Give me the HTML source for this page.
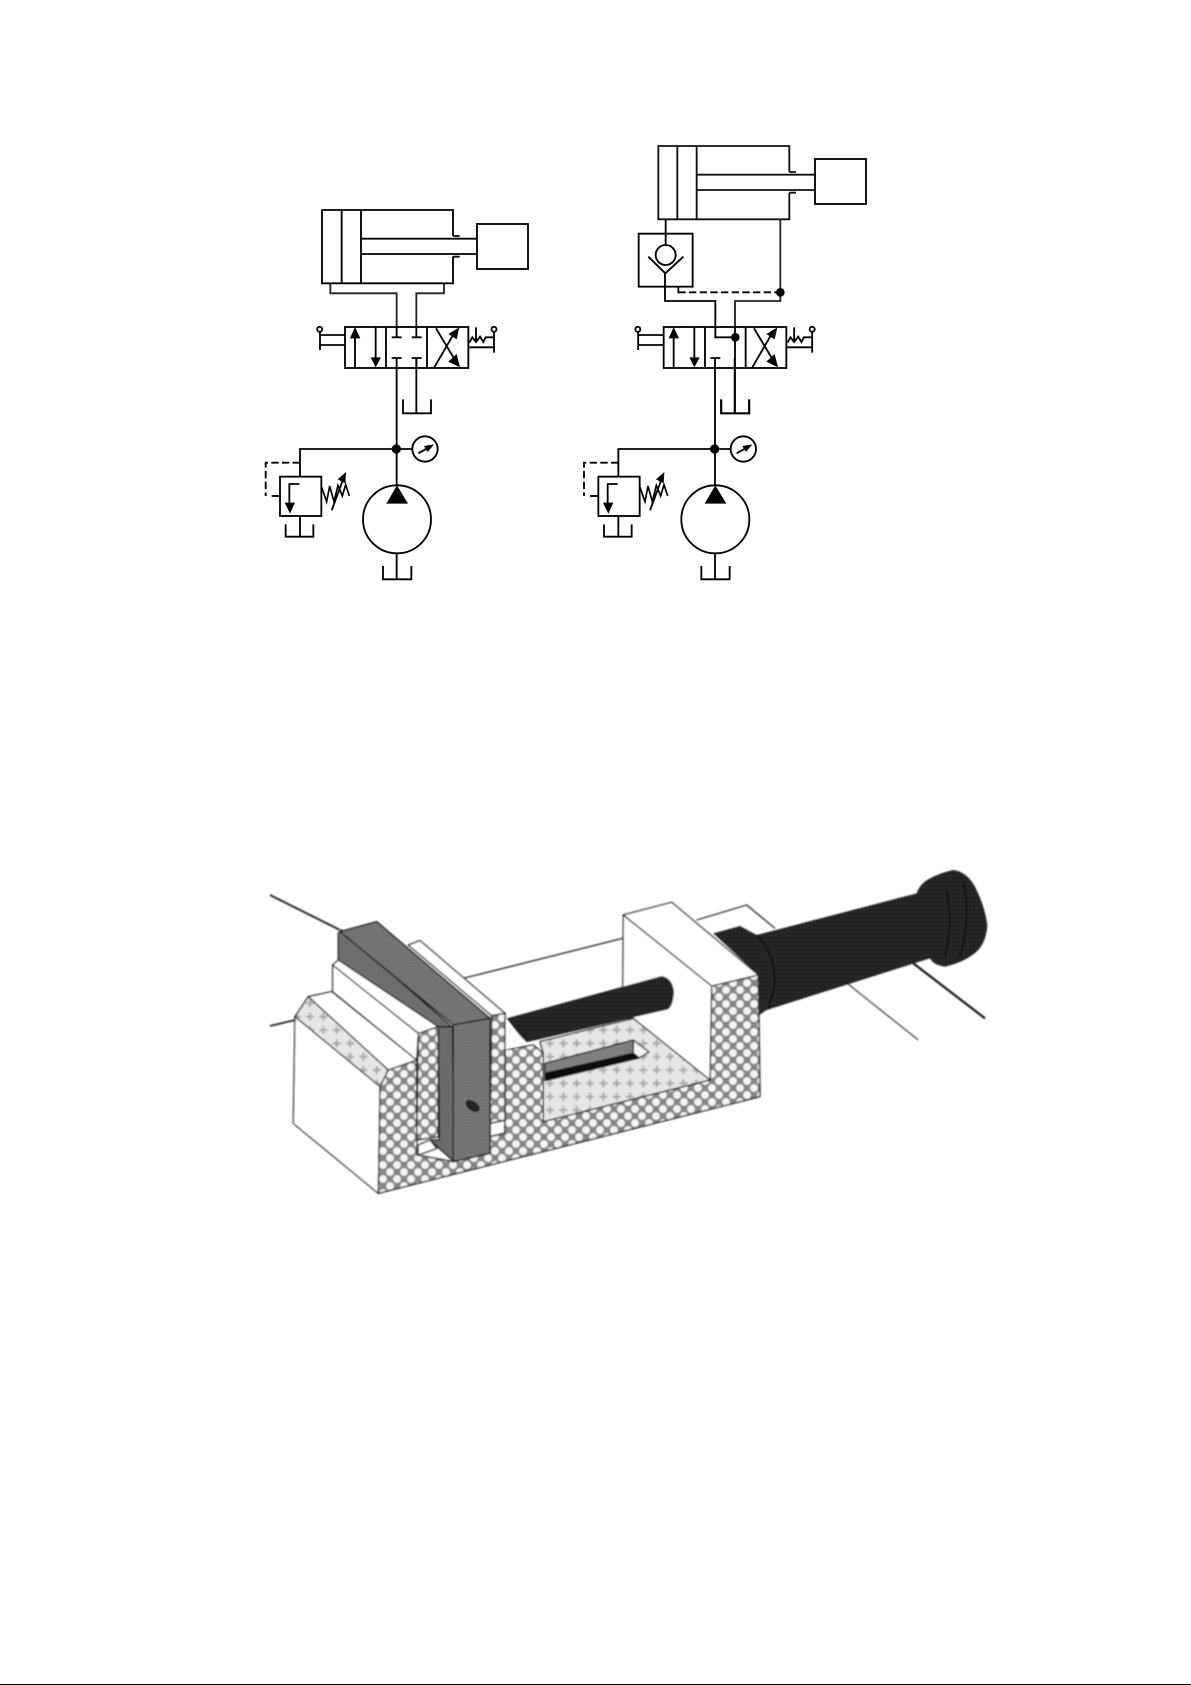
<!DOCTYPE html>
<html><head><meta charset="utf-8"><style>
html,body{margin:0;padding:0;background:#fff}
svg{display:block}
</style></head><body>
<svg xmlns="http://www.w3.org/2000/svg" width="1191" height="1685" viewBox="0 0 1191 1685">
<defs>
<pattern id="d" patternUnits="userSpaceOnUse" width="42" height="42">
<rect width="42" height="42" fill="#858585"/>
<circle cx="0" cy="0" r="11.500" fill="#f4f4f4"/><circle cx="42" cy="0" r="11.500" fill="#f4f4f4"/><circle cx="0" cy="42" r="11.500" fill="#f4f4f4"/><circle cx="42" cy="42" r="11.500" fill="#f4f4f4"/><circle cx="21" cy="21" r="11.500" fill="#f4f4f4"/>
</pattern>
<pattern id="l" patternUnits="userSpaceOnUse" width="40" height="40">
<rect width="40" height="40" fill="#e6e6e6"/>
<path d="M20 8V32M8 20H32" stroke="#a8a8a8" stroke-width="6"/>
</pattern>
<pattern id="h" patternUnits="userSpaceOnUse" width="12" height="12">
<rect width="12" height="12" fill="#202020"/><circle cx="6" cy="6" r="2.2" fill="#3a3a3a"/>
</pattern>
<pattern id="g" patternUnits="userSpaceOnUse" width="10" height="10">
<rect width="10" height="10" fill="#6f6f6f"/><circle cx="5" cy="5" r="2" fill="#8c8c8c"/>
</pattern>
<filter id="b" x="-5%" y="-5%" width="110%" height="110%"><feGaussianBlur stdDeviation="2"/></filter>
<g id="lower">
<path d="M470 714V1066M180 1040V957H470M483 957H517"/>
<path d="M489 808V850H573V808M529 684V850" />
<circle cx="469" cy="957" r="14" fill="#000" stroke="none"/>
<circle cx="555" cy="957" r="38"/>
<path d="M535 970L565 953"/><path d="M582 943L552 948L563 966Z" fill="#000" stroke="none"/>
<circle cx="471" cy="1168" r="102"/>
<path d="M471 1066L439 1121H504Z" fill="#000" stroke="none"/>
<path d="M470 1270V1348M429 1308V1348H514V1308"/>
<rect x="120" y="1040" width="124" height="118"/>
<path d="M178 1062H148V1125"/><path d="M134 1118H165L150 1151Z" fill="#000" stroke="none"/>
<path d="M180 998H77V1098" stroke-dasharray="22 10"/><path d="M95 1098H120"/>
<path d="M180 1158V1220M137 1183V1220H220V1183"/>
<path d="M245 1072L260 1115L269 1068L282 1115L294 1066L307 1098L317 1064L328 1098" stroke-width="5"/>
<path d="M275 1141L308 1052"/><path d="M318 1026L293 1048L316 1060Z" fill="#000" stroke="none"/>
</g>
<g id="ends">
<path d="M240 605V660M240 615H315M240 645H315"/>
<circle cx="239" cy="598" r="7.500"/>
<path d="M685 652H762M762 605V668M708 592V636M688 638L697 622L708 636L720 620L730 636L737 622H762"/>
<circle cx="762" cy="598" r="7.500"/>
</g>
<g id="cell">
<path d="M345 714V620M407 591V685"/>
<path d="M345 591L330 625H361Z" fill="#000" stroke="none"/>
<path d="M407 712L392 682H423Z" fill="#000" stroke="none"/>
</g>
<g id="x">
<path d="M583 712L645 605M588 595L648 695"/>
<path d="M658 592L625 612L650 628Z" fill="#000" stroke="none"/>
<path d="M660 712L625 695L650 672Z" fill="#000" stroke="none"/>
</g>
</defs>
<g fill="none" stroke="#000" stroke-width="5.500" transform="translate(240 130) scale(.33333)">
<path d="M639 318V240H246V460H639V380M305 240V460M363 240V460M363 326H710M363 372H710M639 318H659M639 380H659"/>
<rect x="711" y="282" width="153" height="135"/>
<path d="M271 460V490H470V590M612 460V490H529V590" stroke="#222"/>
<rect x="315" y="591" width="370" height="123"/>
<path d="M438 591V714M561 591V714"/>
<use href="#cell"/><use href="#x"/><use href="#ends"/>
<path d="M470 590V622M529 590V622M455 622H485M515 622H545M455 684H485M515 684H545M470 684V714M529 684V714"/>
<use href="#lower"/>
</g>
<g fill="none" stroke="#000" stroke-width="5.500" transform="translate(560 130) scale(.33333)">
<path d="M688 126V48H295V268H688V188M352 48V268M410 48V268M410 134H764M410 180H764M688 126H708M688 188H708" stroke="#111"/>
<rect x="765" y="87" width="153" height="135"/>
<rect x="236" y="311" width="162" height="159"/>
<path d="M317 268V345"/><circle cx="317" cy="375" r="30"/>
<path d="M265 380L316 430L370 380M315 430V513H466V590"/>
<path d="M661 268V513H525V590" stroke="#222"/>
<path d="M355 470V490"/><path d="M355 487H660" stroke-dasharray="22 10"/>
<circle cx="661" cy="487" r="13" fill="#000" stroke="none"/>
<rect x="311" y="591" width="368" height="123"/>
<path d="M435 591V714M557 591V714"/>
<g transform="translate(-4 0)"><use href="#cell"/></g>
<g transform="translate(-6 0)"><use href="#x"/></g>
<g transform="translate(-5.500 0)"><use href="#ends"/></g>
<path d="M466 590V622H526M525 590V850M451 684H481M465 684V714M483 808V850H567V808"/>
<circle cx="526" cy="622" r="13" fill="#000" stroke="none"/>
<g transform="translate(-5 0)"><use href="#lower"/></g>
</g>
<g transform="translate(250 850) scale(.33333)" stroke="#111" stroke-width="4" stroke-linejoin="round" filter="url(#b)">
<path d="M60 135L270 240M60 528L135 510" fill="none" stroke="#222" stroke-width="5.500"/>
<path d="M1785 395L2005 570" fill="none" stroke="#444" stroke-width="4"/>
<path d="M1990 340L2205 505" fill="none" stroke="#111" stroke-width="6.500"/>
<path d="M640 385L1118 265M1340 210L1490 165L1575 235" fill="none" stroke-width="3.500"/>
<path d="M135 500L130 820L385 1030L390 710Z" fill="#fff"/>
<path d="M385 1030L1530 740L1525 375L1385 408L1380 690L880 815V610L850 585L765 600V850L720 860V910L610 935L500 915V630L415 660L390 710Z" fill="url(#d)"/>
<path d="M135 500L175 440L415 660L390 710Z" fill="url(#l)"/>
<path d="M175 440L245 425L500 630L415 660Z" fill="#fff"/>
<path d="M248 345L505 550L500 630L248 425Z" fill="#fff"/>
<path d="M880 610L870 575L1150 505L1380 690L880 815Z" fill="url(#l)"/>
<path d="M885 640L1150 570L1150 610L885 670Z" fill="#7f7f7f"/>
<path d="M885 672L1150 610L1168 624L885 692Z" fill="#111"/>
<path d="M1150 570L1197 606L1168 624L1150 610Z" fill="#f4f4f4"/>
<path d="M1120 195L1385 408L1380 690L1150 505L1118 505Z" fill="#fff"/>
<path d="M1120 195L1265 157L1525 375L1385 408Z" fill="#fff"/>
<path d="M770 505L1235 378Q1268 385 1272 425Q1270 465 1255 478L825 578Z" fill="url(#h)" stroke="none"/>
<path d="M765 600V510L830 578Z" fill="#fff" stroke="none"/>
<path d="M475 285L510 272L765 490L725 497Z" fill="#fff"/>
<path d="M725 497L765 490V810L720 820Z" fill="url(#d)"/>
<path d="M505 550L565 530V860L500 870Z" fill="url(#d)"/>
<path d="M505 885L540 870L560 895L505 915Z" fill="#fff"/>
<path d="M248 345L265 330L565 530L505 550Z" fill="#fff"/>
<path d="M265 250V330L565 530H605L275 240Z" fill="#6e6e6e"/>
<path d="M270 245L380 215L720 505L610 525Z" fill="url(#g)"/>
<path d="M565 530H608L612 935L540 870H568Z" fill="#6a6a6a"/>
<path d="M610 525L720 505V910L610 935Z" fill="url(#g)"/>
<ellipse cx="668" cy="768" rx="24" ry="14" fill="#222" stroke="none" transform="rotate(35 668 768)"/>
<path d="M1390 250L1470 228L1520 255L2000 130Q2010 100 2040 85Q2080 65 2110 60Q2150 65 2175 110Q2205 170 2212 225Q2210 270 2185 300Q2150 335 2085 350Q2050 345 2040 325L1550 480L1528 495L1525 375Z" fill="url(#h)" stroke="none"/>
<path d="M1520 255Q1575 310 1575 400L1555 478M2090 120Q2110 220 2085 320M2140 95Q2165 200 2130 320" fill="none" stroke="#0a0a0a" stroke-width="5"/>
</g>
<rect x="0" y="1684" width="1191" height="1" fill="#000"/>
</svg>
</body></html>
